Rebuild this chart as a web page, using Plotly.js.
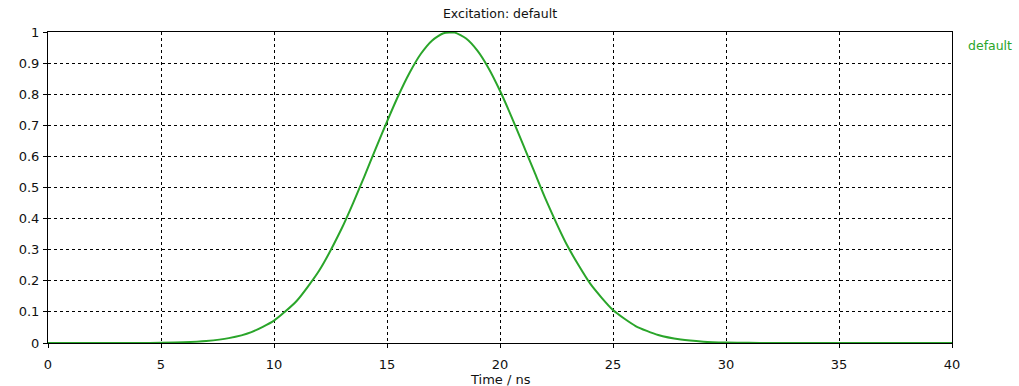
<!DOCTYPE html>
<html>
<head>
<meta charset="utf-8">
<script src="https://cdn.plot.ly/plotly-3.0.1.min.js"></script>
<style>html,body{margin:0;padding:0;background:#fff;}#chart{width:1019px;height:386px;}</style>
</head>
<body>
<div id="chart"></div>
<script>
// Time in ns and excitation amplitude
const timeNs = [0,1,2,3,4,5,6,7,8,9,10,11,12,13,13.5,14,14.5,15,15.5,16,16.5,17,17.5,18,18.5,19,19.5,20,20.5,21,21.5,22,23,24,25,26,27,28,29,30,31,32,33,34,35,36,37,38,39,40];
const amplitude = [0,0,0,0,0.0001,0.0008,0.0024,0.0065,0.0157,0.0351,0.072,0.135,0.233,0.369,0.45,0.536,0.625,0.712,0.795,0.869,0.93,0.973,0.996,0.998,0.979,0.94,0.883,0.811,0.729,0.642,0.554,0.466,0.31,0.19,0.106,0.0546,0.0257,0.0111,0.0044,0.0016,0.0005,0.0001,0,0,0,0,0,0,0,0];
const seriesName = "default";
const chartTitle = "Excitation: default";
const xTitle = "Time / ns";
const xTicks = [0,5,10,15,20,25,30,35,40];
const yTicks = [0,0.1,0.2,0.3,0.4,0.5,0.6,0.7,0.8,0.9,1];
const yTickText = ["0","0.1","0.2","0.3","0.4","0.5","0.6","0.7","0.8","0.9","1"];

const fnt = {family: "DejaVu Sans, Verdana, sans-serif", size: 13, color: "#111"};
const green = "#2aa52a";

Plotly.newPlot("chart", [{
  x: timeNs, y: amplitude, type: "scatter", mode: "lines", name: seriesName,
  line: {color: green, width: 2, shape: "spline", smoothing: 0.6},
  showlegend: false, hoverinfo: "x+y"
}], {
  width: 1019, height: 386,
  margin: {l: 48, r: 67, t: 32, b: 43, pad: 0},
  paper_bgcolor: "#fff", plot_bgcolor: "#fff",
  font: fnt,
  title: {text: chartTitle, font: {family: fnt.family, size: 12.5, color: "#111"}, x: 0.4907, xanchor: "center", y: 0.965, yanchor: "middle"},
  xaxis: {
    range: [0, 40], tickvals: xTicks, ticktext: xTicks.map(String),
    showline: true, linecolor: "#000", linewidth: 1, mirror: true,
    ticks: "outside", ticklen: 4, tickcolor: "#000", ticklabelstandoff: 5,
    showgrid: true, gridcolor: "#000", griddash: "3px,3px", gridwidth: 1,
    zeroline: false, tickfont: fnt
  },
  yaxis: {
    range: [0, 1], tickvals: yTicks, ticktext: yTickText,
    showline: true, linecolor: "#000", linewidth: 1, mirror: true,
    ticks: "outside", ticklen: 4, tickcolor: "#000", ticklabelstandoff: 1,
    showgrid: true, gridcolor: "#000", griddash: "3px,3px", gridwidth: 1,
    zeroline: false, tickfont: fnt
  },
  annotations: [{
    text: seriesName, xref: "paper", yref: "paper", x: 1.015, y: 0.955,
    xanchor: "left", yanchor: "middle", showarrow: false,
    font: {family: fnt.family, size: 12.5, color: green}
  }, {
    text: xTitle, xref: "paper", yref: "paper", x: 0.5, y: 0,
    xanchor: "center", yanchor: "top", yshift: -27, showarrow: false,
    font: fnt
  }]
}, {staticPlot: true, displayModeBar: false});
</script>
</body>
</html>
